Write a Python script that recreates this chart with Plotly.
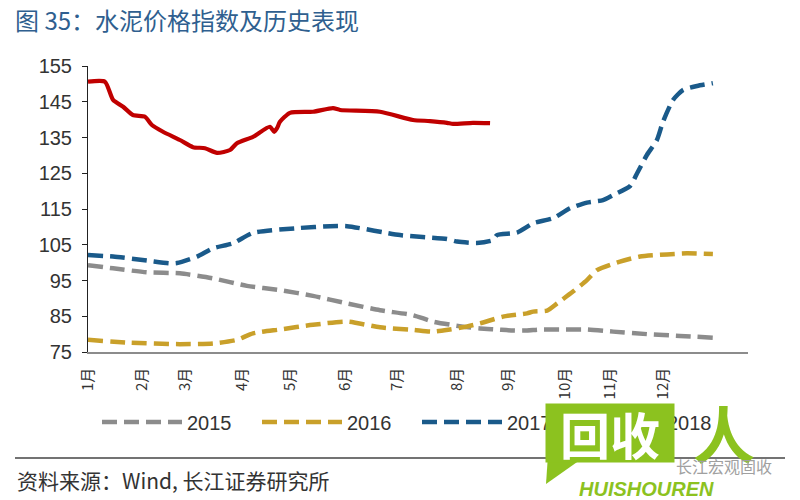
import plotly.graph_objects as go

# ---- data (x = trading-day index within the year) ----
month_pos = [0, 20.5, 36.7, 58.3, 76.5, 97.3, 117, 139.8, 159, 180.7, 197.7, 217.8]
month_labels = ["1月", "2月", "3月", "4月", "5月", "6月", "7月", "8月", "9月", "10月", "11月", "12月"]

x2015 = [0, 9.5, 22.3, 34.8, 47.3, 60.2, 72.7, 85.2, 98.1, 110.6, 123.1, 130.7, 142, 148.5,
         154.9, 161, 166.3, 171.2, 179.9, 189, 198.9, 211.7, 224.2, 236.7]
y2015 = [99.3, 98.4, 97.3, 97.0, 95.6, 93.5, 92.3, 90.7, 88.6, 86.7, 85.3, 83.5, 82.1, 81.6,
         81.3, 81.0, 81.0, 81.3, 81.3, 81.3, 80.7, 80.0, 79.5, 79.0]

x2016 = [0, 15.9, 34.8, 47.3, 56.4, 62.5, 72.7, 85.2, 98.1, 110.6, 123.1, 130.7, 137.1, 142,
         148.5, 157.2, 166.3, 168.6, 173.9, 177.7, 183.7, 189, 192.8, 201.5, 209.1, 219.3, 226.9, 236.7]
y2016 = [78.4, 77.6, 77.2, 77.4, 78.4, 80.2, 81.3, 82.6, 83.5, 81.9, 81.2, 80.7, 81.3, 81.9,
         83.0, 84.9, 85.8, 86.3, 86.6, 88.6, 91.9, 95.1, 97.9, 100.3, 101.7, 102.3, 102.6, 102.4]

x2017 = [0, 9.5, 22.3, 31.1, 33.7, 41.3, 47.3, 54.9, 62.5, 80.3, 91.7, 98.1, 118.2, 136, 139.8,
         147.3, 153.4, 154.9, 162.5, 168.6, 176.1, 182.6, 189, 195.1, 198.9, 205.3, 208, 211.7,
         215.5, 217.8, 221.6, 225.4, 230.7, 236.7]
y2017 = [102.1, 101.7, 100.6, 99.8, 99.9, 101.7, 104, 105.4, 108.3, 109.7, 110.2, 110.2, 107.7, 106.6, 105.9,
         105.5, 106.3, 107.7, 108.4, 111, 112.4, 115.2, 116.8, 117.5, 118.9, 121.4, 125, 130.1,
         134.3, 139.4, 145.5, 148.3, 149.4, 150.2]

x2018 = [0, 6.4, 9.5, 13.3, 17, 21.6, 24.2, 28.4, 34.8, 39.8, 44.3, 48.9, 53.8, 56.4, 62.5,
         68.9, 70.5, 71.6, 72.7, 76.5, 85.2, 92.8, 95.5, 110.6, 123.1, 129.5, 136, 138.3, 145.8, 152.3]
y2018 = [150.6, 150.6, 145.5, 143.6, 141.3, 140.8, 138.5, 136.6, 134.3, 132.3, 132.0, 130.7, 131.5, 133.4, 135.2,
         138.0, 136.6, 137.6, 139.4, 141.9, 142.2, 143.2, 142.7, 142.2, 139.9, 139.6, 139.1, 138.8, 139.1, 139.0]

series_names = ["2015", "2016", "2017", "2018"]
colors = ["#8C8C8C", "#C9A02A", "#1A5A8A", "#C00000"]

FONT = "Liberation Sans, Arial, sans-serif"
CJK = "Noto Sans CJK SC, sans-serif"

fig = go.Figure()
for name, xs, ys, col in zip(series_names, [x2015, x2016, x2017, x2018],
                             [y2015, y2016, y2017, y2018], colors):
    solid = name == "2018"
    fig.add_trace(go.Scatter(
        x=xs, y=ys, name=name, mode="lines",
        line=dict(color=col, width=4.2 if solid else 4.5,
                  dash="solid" if solid else "15px,7px",
                  shape="spline", smoothing=0.6),
        hoverinfo="skip"))

# The page body has an 8px margin, so the figure is 792x492 and sits at (8, 8).
# Plot area in page pixels: x 88..748, y 66..352
def PX(px):
    return (px - 88) / 660.0

def PY(py):
    return (352 - py) / 286.0

green = "#8CC21F"
fig.update_layout(
    width=792, height=492,
    margin=dict(l=80, r=52, t=58, b=148),
    paper_bgcolor="white", plot_bgcolor="white",
    font=dict(family=FONT, color="#333333"),
    title=dict(text="图 35：水泥价格指数及历史表现", x=7 / 792, xref="container", xanchor="left",
               y=1 - 14 / 492, yref="container", yanchor="middle",
               font=dict(family=CJK, size=24, color="#2F5F8F")),
    xaxis=dict(range=[0, 250], tickmode="array", tickvals=month_pos, ticktext=month_labels,
               tickangle=-90, showline=True, linecolor="#8C8C8C", linewidth=1.5,
               showgrid=False, zeroline=False, ticks="", ticklabelstandoff=8,
               tickfont=dict(family=CJK, size=15, color="#333")),
    yaxis=dict(range=[75, 155], tick0=75, dtick=10, showline=True, linecolor="#222", linewidth=1,
               ticks="outside", ticklen=5, tickcolor="#222", showgrid=False, zeroline=False,
               ticklabelstandoff=6, tickfont=dict(size=20, color="#333")),
    legend=dict(orientation="h", x=PX(97), xanchor="left", y=PY(422), yanchor="middle",
                itemwidth=80, entrywidth=65, font=dict(size=20, color="#333"),
                bgcolor="rgba(0,0,0,0)"),
    showlegend=True,
)

# separator line above source
fig.add_shape(type="line", xref="paper", yref="paper", x0=PX(15), x1=PX(785), y0=PY(458), y1=PY(458),
              line=dict(color="#444", width=1.5))

fig.add_annotation(text="资料来源：Wind, 长江证券研究所", xref="paper", yref="paper",
                   x=PX(15), y=PY(480), xanchor="left", yanchor="middle", showarrow=False,
                   font=dict(family=CJK, size=21, color="#333"))

# watermark approximation
fig.add_shape(type="path", xref="paper", yref="paper",
              path=f"M {PX(548)},{PY(455)} L {PX(580)},{PY(460)} L {PX(546)},{PY(484)} Z",
              fillcolor=green, line=dict(width=0), layer="above")
fig.add_annotation(text="<b>回收</b>", xref="paper", yref="paper", x=PX(610), y=PY(433),
                   xanchor="center", yanchor="middle", showarrow=False, bgcolor=green,
                   width=128, height=58, borderpad=0,
                   font=dict(family=CJK, size=50, color="white"))
fig.add_annotation(text="<b>人</b>", xref="paper", yref="paper", x=PX(724), y=PY(432),
                   xanchor="center", yanchor="middle", showarrow=False,
                   font=dict(family=CJK, size=62, color=green))
fig.add_annotation(text="长江宏观固收", xref="paper", yref="paper", x=PX(724), y=PY(466),
                   xanchor="center", yanchor="middle", showarrow=False,
                   font=dict(family=CJK, size=16, color="#A0A0A0"))
fig.add_annotation(text="<b><i>HUISHOUREN</i></b>", xref="paper", yref="paper", x=PX(646), y=PY(489),
                   xanchor="center", yanchor="middle", showarrow=False,
                   font=dict(family=FONT, size=20, color=green))

fig.write_html("out.html")
